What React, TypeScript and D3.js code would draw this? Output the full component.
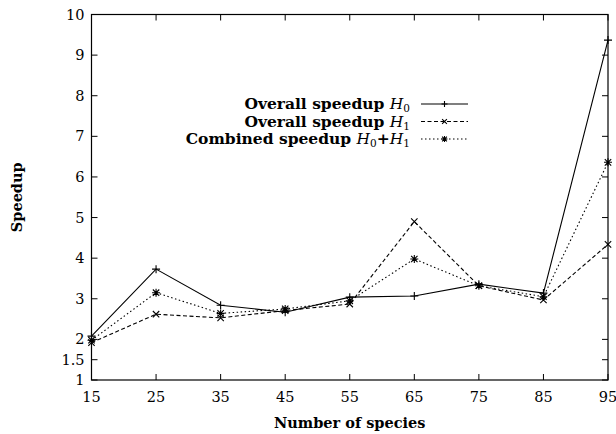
import { useRef, useEffect } from 'react'
import * as d3 from 'd3'

const species = [15, 25, 35, 45, 55, 65, 75, 85, 95]
const speedupH0 = [2.08, 3.73, 2.84, 2.67, 3.04, 3.07, 3.36, 3.14, 9.37]
const speedupH1 = [1.92, 2.62, 2.53, 2.71, 2.87, 4.9, 3.32, 2.97, 4.34]
const combined = [1.98, 3.15, 2.64, 2.75, 2.95, 3.98, 3.32, 3.05, 6.36]
const yTicks = [1, 1.5, 2, 3, 4, 5, 6, 7, 8, 9, 10]

const W = 616
const H = 434
const font = '"DejaVu Serif", "Liberation Serif", serif'

type Marker = 'plus' | 'cross' | 'star'

export default function App() {
  const svgRef = useRef<SVGSVGElement>(null)

  useEffect(() => {
    if (!svgRef.current) return
    const svg = d3.select(svgRef.current)
    svg.selectAll('*').remove()

    const left = 91.5, right = 608, top = 14.5, bottom = 380

    const x = d3.scaleLinear().domain([15, 95]).range([left, right])
    const y = d3.scaleLinear().domain([1, 10]).range([bottom, top])

    const g = svg.append('g')

    // frame
    g.append('rect')
      .attr('x', left).attr('y', top)
      .attr('width', right - left).attr('height', bottom - top)
      .attr('fill', 'none').attr('stroke', '#000').attr('stroke-width', 1.2)

    const tl = 6
    // y ticks, mirrored on the right
    yTicks.forEach((t) => {
      const yy = y(t)
      g.append('line').attr('x1', left).attr('x2', left + tl).attr('y1', yy).attr('y2', yy).attr('stroke', '#000')
      g.append('line').attr('x1', right).attr('x2', right - tl).attr('y1', yy).attr('y2', yy).attr('stroke', '#000')
      g.append('text')
        .attr('x', left - 7).attr('y', yy + 5)
        .attr('text-anchor', 'end')
        .attr('font-family', font).attr('font-size', 14.5)
        .text(String(t))
    })

    // x ticks, mirrored on top
    species.forEach((s) => {
      const xx = x(s)
      g.append('line').attr('x1', xx).attr('x2', xx).attr('y1', bottom).attr('y2', bottom - tl).attr('stroke', '#000')
      g.append('line').attr('x1', xx).attr('x2', xx).attr('y1', top).attr('y2', top + tl).attr('stroke', '#000')
      g.append('text')
        .attr('x', xx).attr('y', bottom + 22)
        .attr('text-anchor', 'middle')
        .attr('font-family', font).attr('font-size', 14.5)
        .text(String(s))
    })

    // axis labels
    g.append('text')
      .attr('x', (left + right) / 2).attr('y', 428)
      .attr('text-anchor', 'middle')
      .attr('font-family', font).attr('font-size', 14.5).attr('font-weight', 'bold')
      .text('Number of species')

    g.append('text')
      .attr('transform', `translate(22, ${(top + bottom) / 2}) rotate(-90)`)
      .attr('text-anchor', 'middle')
      .attr('font-family', font).attr('font-size', 14.5).attr('font-weight', 'bold')
      .text('Speedup')

    const drawMarker = (sel: d3.Selection<SVGGElement, unknown, null, undefined>, cx: number, cy: number, m: Marker, r = 4) => {
      const p = d3.path()
      if (m === 'plus' || m === 'star') {
        p.moveTo(cx - r, cy); p.lineTo(cx + r, cy)
        p.moveTo(cx, cy - r); p.lineTo(cx, cy + r)
      }
      if (m === 'cross' || m === 'star') {
        const q = r * 0.8
        p.moveTo(cx - q, cy - q); p.lineTo(cx + q, cy + q)
        p.moveTo(cx - q, cy + q); p.lineTo(cx + q, cy - q)
      }
      sel.append('path').attr('d', p.toString()).attr('stroke', '#000').attr('stroke-width', 1.1).attr('fill', 'none')
    }

    const series: { name: string; values: number[]; dash: string | null; marker: Marker }[] = [
      { name: 'Overall speedup', values: speedupH0, dash: null, marker: 'plus' },
      { name: 'Overall speedup', values: speedupH1, dash: '4,2.5', marker: 'cross' },
      { name: 'Combined speedup', values: combined, dash: '1.5,2.5', marker: 'star' },
    ]

    const line = d3.line<number>()
      .x((_, i) => x(species[i]))
      .y((d) => y(d))

    series.forEach((s) => {
      const sg = g.append('g')
      sg.append('path')
        .datum(s.values)
        .attr('d', line)
        .attr('fill', 'none')
        .attr('stroke', '#000')
        .attr('stroke-width', 1.1)
        .attr('stroke-dasharray', s.dash)
      s.values.forEach((v, i) => drawMarker(sg, x(species[i]), y(v), s.marker))
    })

    // legend
    const lx = 410, ly0 = 104, dy = 17.5
    const subs = [['0'], ['1'], ['0', '1']]
    series.forEach((s, i) => {
      const yy = ly0 + i * dy
      const t = g.append('text')
        .attr('x', lx).attr('y', yy + 5)
        .attr('text-anchor', 'end')
        .attr('font-family', font).attr('font-size', 15.5)
      t.append('tspan').attr('font-weight', 'bold').text(s.name + ' ')
      subs[i].forEach((sub, j) => {
        t.append('tspan').attr('font-weight', 'bold').attr('dy', j > 0 ? -3 : 0).text(j > 0 ? '+' : '')
        t.append('tspan').attr('font-style', 'italic').text('H')
        t.append('tspan').attr('font-size', 10.5).attr('dy', 3).text(sub)
      })
      const lg = g.append('g')
      lg.append('line')
        .attr('x1', 421).attr('x2', 468).attr('y1', yy).attr('y2', yy)
        .attr('stroke', '#000').attr('stroke-width', 1.1)
        .attr('stroke-dasharray', s.dash)
      drawMarker(lg, 444.5, yy, s.marker, 3)
    })
  }, [])

  return (
    <svg
      ref={svgRef}
      width={W}
      height={H}
      style={{ position: 'absolute', left: 0, top: 0, background: '#fff' }}
    />
  )
}
